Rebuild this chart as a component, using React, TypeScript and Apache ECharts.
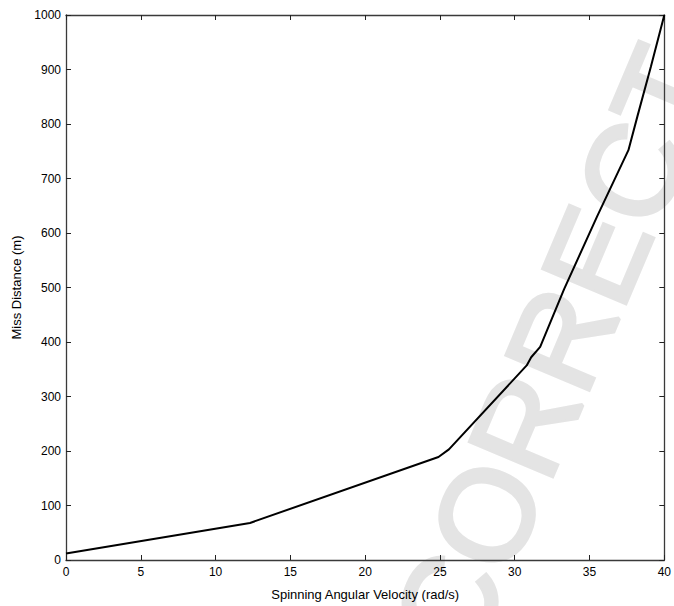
import React, { useEffect, useRef } from "react";
import * as echarts from "echarts";

const velocity = [0, 12.3, 24.9, 25.6, 30.8, 31.1, 31.7, 33.3, 35.5, 37.6, 38.2, 39.1, 40];
const missDistance = [12, 68, 189, 203, 357, 372, 391, 497, 630, 752, 814, 905, 1000];
const xTitle = "Spinning Angular Velocity (rad/s)";
const yTitle = "Miss Distance (m)";
const watermark = "CORRECT";

export default function App() {
  const ref = useRef<HTMLDivElement>(null);
  useEffect(() => {
    if (!ref.current) return;
    const chart = echarts.init(ref.current, null, { renderer: "svg" });
    const font = "Arial, 'Liberation Sans', sans-serif";
    const axisLine = { show: true, onZero: false, lineStyle: { color: "#3a3a3a", width: 1.3 } };
    const axisTick = { show: true, inside: true, length: 5, lineStyle: { color: "#222", width: 1 } };
    const label = { color: "#000", fontSize: 12, fontFamily: font, formatter: (v: number) => String(v) };
    chart.setOption({
      animation: false,
      backgroundColor: "#fff",
      grid: { left: 66, right: 7, top: 15, bottom: 44, containLabel: false },
      graphic: {
        z: -1,
        elements: [
          {
            type: "text",
            x: 556,
            y: 352,
            rotation: 1.17,
            silent: true,
            z: -1,
            style: {
              text: watermark,
              fill: "#e4e4e4",
              stroke: "#e4e4e4",
              lineWidth: 4,
              font: `130px ${font}`,
              align: "center",
              verticalAlign: "middle",
            },
          },
        ],
      },
      xAxis: [
        {
          type: "value",
          min: 0,
          max: 40,
          interval: 5,
          position: "bottom",
          axisLine,
          axisTick,
          splitLine: { show: false },
          axisLabel: { ...label, margin: 6 },
          name: xTitle,
          nameLocation: "middle",
          nameGap: 28,
          nameTextStyle: { color: "#000", fontSize: 13, fontFamily: font },
        },
        {
          type: "value",
          min: 0,
          max: 40,
          interval: 5,
          position: "top",
          axisLine,
          axisTick,
          splitLine: { show: false },
          axisLabel: { show: false },
        },
      ],
      yAxis: [
        {
          type: "value",
          min: 0,
          max: 1000,
          interval: 100,
          position: "left",
          axisLine,
          axisTick,
          splitLine: { show: false },
          axisLabel: { ...label, margin: 5 },
          name: yTitle,
          nameLocation: "middle",
          nameGap: 41,
          nameTextStyle: { color: "#000", fontSize: 13, fontFamily: font },
        },
        {
          type: "value",
          min: 0,
          max: 1000,
          interval: 100,
          position: "right",
          axisLine,
          axisTick,
          splitLine: { show: false },
          axisLabel: { show: false },
        },
      ],
      series: [
        {
          type: "line",
          data: velocity.map((v, i) => [v, missDistance[i]]),
          showSymbol: false,
          symbol: "none",
          lineStyle: { color: "#000", width: 2 },
          z: 5,
        },
      ],
    });
    return () => chart.dispose();
  }, []);
  return <div ref={ref} style={{ position: "fixed", left: 0, top: 0, width: 674, height: 606 }} />;
}
